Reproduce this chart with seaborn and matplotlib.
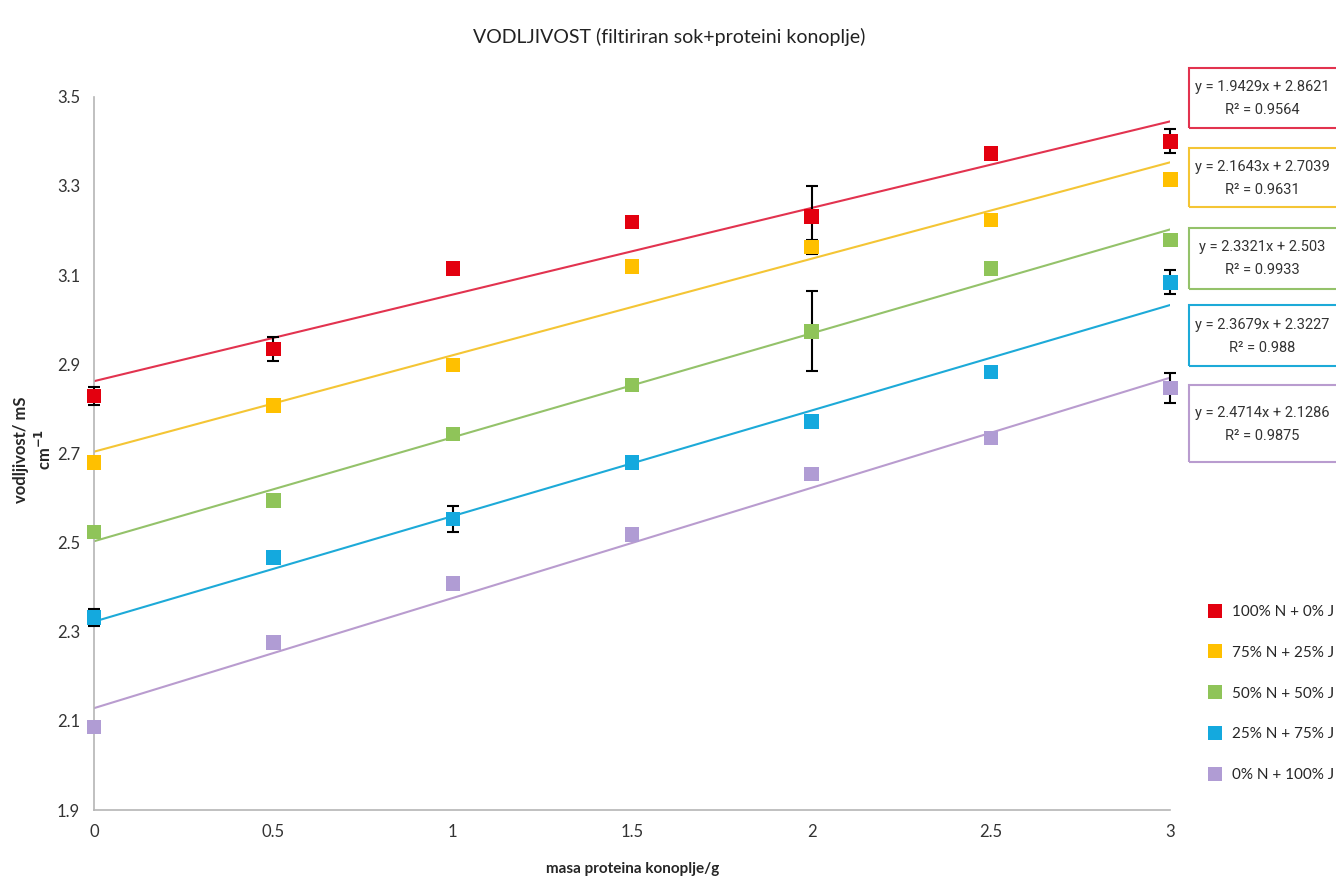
import matplotlib
matplotlib.use("Agg")
import matplotlib.pyplot as plt
import numpy as np
import pandas as pd
import seaborn as sns
from matplotlib.patches import Rectangle

# masa proteina konoplje (g)
masa = [0, 0.5, 1, 1.5, 2, 2.5, 3]

serije = ["100% N + 0% J", "75% N + 25% J", "50% N + 50% J", "25% N + 75% J", "0% N + 100% J"]

# vodljivost / mS cm-1
v_100_0 = [2.829, 2.934, 3.115, 3.219, 3.231, 3.373, 3.400]
v_75_25 = [2.679, 2.807, 2.898, 3.119, 3.163, 3.224, 3.314]
v_50_50 = [2.524, 2.594, 2.744, 2.853, 2.974, 3.115, 3.179]
v_25_75 = [2.332, 2.466, 2.553, 2.680, 2.771, 2.883, 3.084]
v_0_100 = [2.086, 2.276, 2.408, 2.518, 2.654, 2.735, 2.847]

# standard deviations (error bars)
sd_100_0 = [0.020, 0.027, 0.0, 0.0, 0.070, 0.010, 0.027]
sd_75_25 = [0.0, 0.0, 0.0, 0.0, 0.015, 0.0, 0.0]
sd_50_50 = [0.010, 0.0, 0.0, 0.0, 0.090, 0.0, 0.0]
sd_25_75 = [0.020, 0.0, 0.030, 0.0, 0.0, 0.010, 0.027]
sd_0_100 = [0.0, 0.010, 0.0, 0.0, 0.0, 0.010, 0.034]

# Excel trendline coefficients (equation x is in tenths of the axis unit)
nagib = [1.9429, 2.1643, 2.3321, 2.3679, 2.4714]
odsjecak = [2.8621, 2.7039, 2.503, 2.3227, 2.1286]
r2 = [0.9564, 0.9631, 0.9933, 0.988, 0.9875]
trend_scale = 0.1

boje = ["#e3000f", "#ffc000", "#8fc459", "#14a9de", "#b09cd4"]
boje_linija = ["#e2334f", "#f4c535", "#94c26a", "#1daad8", "#b99ccf"]

vrijednosti = [v_100_0, v_75_25, v_50_50, v_25_75, v_0_100]
greske = [sd_100_0, sd_75_25, sd_50_50, sd_25_75, sd_0_100]

df = pd.concat([pd.DataFrame({"masa": masa, "vodljivost": v, "sd": e, "serija": s})
                for v, e, s in zip(vrijednosti, greske, serije)], ignore_index=True)

sns.set_style("white")
plt.rcParams["font.family"] = ["Lato", "DejaVu Sans"]

fig = plt.figure(figsize=(13.36, 8.8), dpi=100)
ax = fig.add_axes([0.0704, 0.0795, 0.8056, 0.8105])

# trend lines
x_tr = np.array([masa[0], masa[-1]])
for k, s in enumerate(serije):
    y_tr = odsjecak[k] + nagib[k] * trend_scale * x_tr
    sns.lineplot(x=x_tr, y=y_tr, color=boje_linija[k], linewidth=1.5, ax=ax, zorder=2)

# error bars
for s in serije:
    d = df[df["serija"] == s]
    ax.errorbar(d["masa"], d["vodljivost"], yerr=d["sd"], fmt="none", ecolor="black",
                elinewidth=1.5, capsize=4, capthick=1.5, zorder=3, clip_on=False)

sns.scatterplot(data=df, x="masa", y="vodljivost", hue="serija", hue_order=serije,
                palette=boje, marker="s", s=110, linewidth=0, ax=ax, zorder=4, clip_on=False)

ax.set_xlim(0, 3)
ax.set_ylim(1.9, 3.5)
ax.set_xticks(masa)
ax.set_xticklabels(["0", "0.5", "1", "1.5", "2", "2.5", "3"])
ax.set_yticks(np.arange(1.9, 3.51, 0.2))
ax.set_yticklabels([f"{t:.1f}" for t in np.arange(1.9, 3.51, 0.2)])
ax.tick_params(axis="both", length=0, labelsize=12, labelcolor="#333333", pad=10)
for sp in ["top", "right"]:
    ax.spines[sp].set_visible(False)
for sp in ["left", "bottom"]:
    ax.spines[sp].set_color("#b5b5b5")
    ax.spines[sp].set_linewidth(1.2)

ax.set_xlabel("masa proteina konoplje/g", fontsize=11, fontweight="bold", labelpad=16)
ax.set_ylabel("vodljivost/ mS\ncm$^{\\mathbf{-1}}$", fontsize=12, fontweight="bold",
              va="center", linespacing=1.3)
ax.yaxis.set_label_coords(-0.056, 0.505)

fig.text(0.501, 0.958, "VODLJIVOST (filtiriran sok+proteini konoplje)", ha="center", va="center",
         fontsize=14, color="#222222")

# legend
sns.move_legend(ax, "upper left", bbox_to_anchor=(0.888, 0.328), bbox_transform=fig.transFigure,
                frameon=False, title=None, fontsize=11, labelspacing=1.75, handletextpad=0.1,
                markerscale=0.9)

# trendline equation boxes (figure pixels, top-down)
box_top = [68, 148, 228, 305, 385]
box_h = [60, 59, 61, 61, 77]
W, H = 1336, 880
for k in range(5):
    y0 = (H - box_top[k] - box_h[k]) / H
    fig.patches.append(Rectangle((1189 / W, y0), 160 / W, box_h[k] / H, transform=fig.transFigure,
                                 fill=False, edgecolor=boje_linija[k], linewidth=1.5))
    yc = H - box_top[k] - box_h[k] / 2
    fig.text(1262 / W, (yc + 11) / H, f"y = {nagib[k]:g}x + {odsjecak[k]:g}", ha="center", va="center",
             fontsize=10.5, family=["Roboto", "DejaVu Sans"], color="#333333")
    fig.text(1262 / W, (yc - 12) / H, f"R² = {r2[k]:g}", ha="center", va="center",
             fontsize=10.5, family=["Roboto", "DejaVu Sans"], color="#333333")

fig.savefig("out.png", dpi=100)
